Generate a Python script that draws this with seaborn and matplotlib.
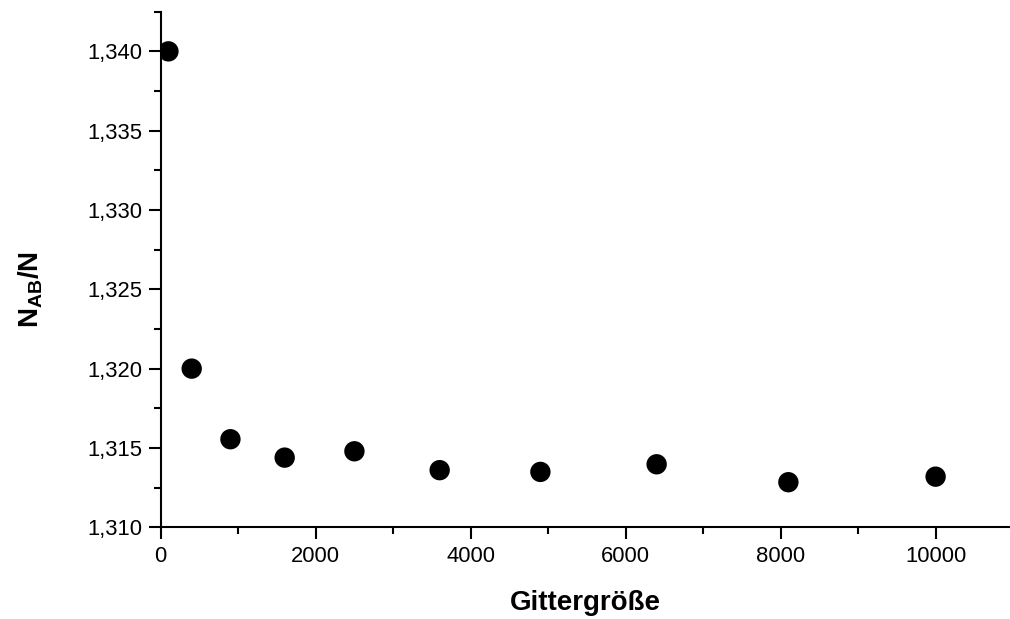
import matplotlib
matplotlib.use("Agg")
import matplotlib.pyplot as plt
import seaborn as sns
import pandas as pd
from matplotlib.ticker import MultipleLocator, FuncFormatter

# Data
grid_size = [100, 400, 900, 1600, 2500, 3600, 4900, 6400, 8100, 10000]
ratio = [1.3400, 1.3200, 1.31555, 1.31439, 1.31479, 1.31360, 1.31349, 1.31397, 1.31284, 1.31319]
x_label = "Gittergröße"
y_label = r"$\mathbf{N}_{\mathbf{AB}}\mathbf{/N}$"

df = pd.DataFrame({"x": grid_size, "y": ratio})

sns.set_style("ticks")
plt.rcParams["font.family"] = ["Liberation Sans", "DejaVu Sans"]
plt.rcParams["mathtext.fontset"] = "custom"
plt.rcParams["mathtext.bf"] = "Liberation Sans:bold"
plt.rcParams["mathtext.rm"] = "Liberation Sans"
plt.rcParams["text.color"] = "black"
plt.rcParams["axes.labelcolor"] = "black"
plt.rcParams["xtick.color"] = "black"
plt.rcParams["ytick.color"] = "black"

fig = plt.figure(figsize=(10.10, 6.19), dpi=100)
ax = fig.add_axes([0.1591, 0.1482, 1.0 - 0.1591, 0.9811 - 0.1482])

sns.scatterplot(data=df, x="x", y="y", ax=ax, color="black", s=215,
                edgecolor="none", linewidth=0, legend=False, zorder=3)

ax.set_xlim(0, 10960)
ax.set_ylim(1.310, 1.3425)

ax.xaxis.set_major_locator(MultipleLocator(2000))
ax.xaxis.set_minor_locator(MultipleLocator(1000))
ax.yaxis.set_major_locator(MultipleLocator(0.005))
ax.yaxis.set_minor_locator(MultipleLocator(0.0025))
ax.yaxis.set_major_formatter(FuncFormatter(lambda v, p: f"{v:.3f}".replace(".", ",")))
ax.xaxis.set_major_formatter(FuncFormatter(lambda v, p: f"{int(round(v))}"))

for side in ["top", "right"]:
    ax.spines[side].set_visible(False)
for side in ["left", "bottom"]:
    ax.spines[side].set_linewidth(1.5)
    ax.spines[side].set_color("black")

ax.tick_params(which="major", direction="out", length=8.5, width=1.5,
               labelsize=15.8, pad=5, colors="black", labelcolor="black")
ax.tick_params(which="minor", direction="out", length=4.8, width=1.5, colors="black")

ax.set_xlabel(x_label, fontsize=20, fontweight="bold", labelpad=16.5, color="black")
ax.set_ylabel(y_label, fontsize=20, labelpad=0, color="black")
ax.yaxis.set_label_coords(-0.136, 0.462)

fig.savefig("out.png", dpi=100)
